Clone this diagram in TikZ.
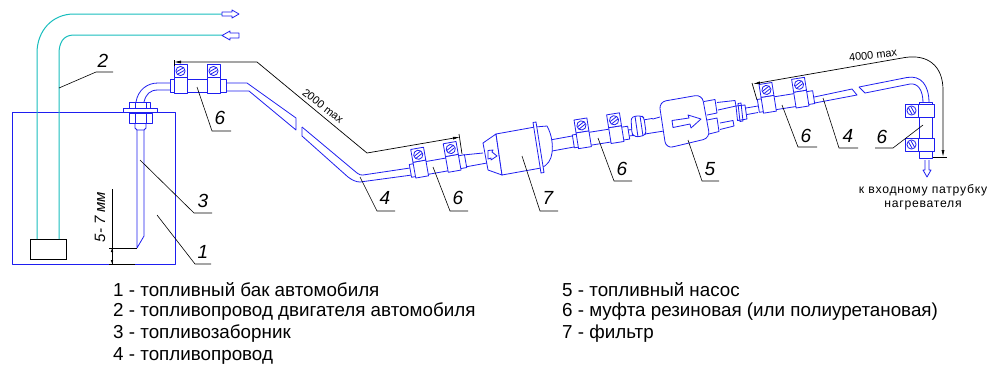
\documentclass[tikz,border=0pt]{standalone}
\usepackage{fontspec}
\setmainfont{Liberation Sans}
\usetikzlibrary{arrows.meta}
\definecolor{bl}{RGB}{30,30,240}
\definecolor{tl}{RGB}{25,190,190}
\tikzset{
  part/.style={draw=bl,line width=0.8pt,line join=round},
  fpart/.style={part,fill=white},
  fuel/.style={draw=tl,line width=1pt},
  lead/.style={draw=black,line width=0.6pt},
  num/.style={font=\itshape\fontsize{19}{19}\selectfont,inner sep=0pt},
  legend/.style={anchor=west,font=\fontsize{18.8}{19}\selectfont,inner sep=0pt},
  dimtext/.style={font=\fontsize{11}{12}\selectfont,inner sep=0pt},
  dimline/.style={draw=black,line width=0.7pt}
}
\newcommand{\scr}[2]{%
  \draw[fpart] (#1-6.5,#2-6.5) rectangle (#1+6.5,#2+6.5);
  \draw[part] (#1,#2) circle (4.6);
  \draw[part] (#1-3.8,#2+0.6) -- (#1+2.9,#2-3.2) (#1-2.9,#2+3.2) -- (#1+3.8,#2-0.6);
}
% x y angle clamp1 clamp2
\newcommand{\muff}[5]{%
  \begin{scope}[shift={(#1,#2)},rotate=#3]
    \draw[fpart] (-28,-6.5) rectangle (28,6.5);
    \draw[fpart] (#4,-8) rectangle (#4+13,8);
    \draw[fpart] (#5,-8) rectangle (#5+13,8);
    \pgfmathsetmacro{\ca}{#4+6.5}\pgfmathsetmacro{\cb}{#5+6.5}
    \scr{\ca}{-14.5}
    \scr{\cb}{-14.5}
  \end{scope}
}
\begin{document}
\begin{tikzpicture}[x=1pt,y=-1pt]
\useasboundingbox (0,0) rectangle (987,365);
\fill[white] (0,0) rectangle (987,365);
% tank
\draw[part] (12,112) rectangle (175,264);
% suction float
\draw[draw=black,line width=0.7pt] (30,239) rectangle (66,259);
% fuel lines
\draw[fuel] (37,239) -- (37,53) .. controls (37,31) and (52,14) .. (74,14) -- (222,14);
\draw[fuel] (59,239) -- (59,54) .. controls (59,43) and (63,35) .. (74,35) -- (222,35);
\draw[part,fill=white] (222,12) -- (232,12) -- (232,10) -- (239,14) -- (232,18) -- (232,16) -- (222,16) -- cycle;
\draw[part,fill=white] (239,33) -- (230,33) -- (230,31) -- (222,35.5) -- (230,40) -- (230,38) -- (239,38) -- cycle;
% intake
\draw[part] (137,130) -- (137,248) -- (144,236) -- (144,130);
\draw[fpart] (135,123) -- (146,123) -- (146,128) -- (144,130) -- (137,130) -- (135,128) -- cycle;
\draw[fpart] (129,113) rectangle (152,123);
\draw[part] (135,113) -- (135,123) (146,113) -- (146,123);
\draw[fpart] (123,108) rectangle (157,112);
\draw[fpart] (129,102) rectangle (150,108);
\draw[part] (135,102) -- (135,108) (146,102) -- (146,108);
% first tube
\draw[part] (136,102) .. controls (138,90) and (147,83) .. (158,83) -- (171,83);
\draw[part] (144,102) .. controls (146,94) and (150,90) .. (158,90) -- (171,90);
\draw[part] (226,83) -- (247,83) -- (296,118) -- (296,130) -- (249,91) -- (226,91);
\draw[part] (302,127) -- (302,136) -- (348,177) .. controls (352,180) and (356,182) .. (360,182) -- (412,175);
\draw[part] (302,127) -- (357,173) .. controls (359,175) and (361,175) .. (363,175) -- (410,168);
% muff 1
\muff{198}{85.5}{0}{-24}{9}
% muff 2
\draw[part] (463,155) -- (483,153) (465,167) -- (487,163);
\muff{438}{166}{10}{-24}{9}
% filter
\draw[part] (550,140) -- (572,136) (552,151) -- (574,147);
\draw[fpart] (483,143) -- (496,134) -- (502,175) -- (488,170) -- cycle;
\draw[fpart] (496,134) -- (535,127) -- (541,168) -- (502,175) -- cycle;
\draw[fpart] (535,127) -- (547,126) .. controls (552,135) and (553,145) .. (552,153) .. controls (551,160) and (548,165) .. (541,168) -- cycle;
\draw[fpart] (533,122.5) -- (536,122) -- (544,172.5) -- (541,173) -- cycle;
\draw[part] (488,150.5) -- (493,150) -- (492,152) -- (497,156) -- (491,160) -- (491,158) -- (488,159) -- cycle;
% muff 3
\draw[part] (628,130) -- (632,129.5) (629,136) -- (633,135.5);
\muff{601}{137}{9}{-24}{9}
% pump
\draw[part] (643,120) -- (652,118.5) -- (653,119) -- (660,117) (645,134) -- (664,131);
\draw[fpart,rounded corners=2.5pt] (631,118) -- (635,116) -- (642,116) -- (644,118) -- (646,132) -- (645,135) -- (638,137) -- (634,136) -- (632,134) -- cycle;
\draw[part] (635,116) -- (638,137) (640,116) -- (643,136);
\draw[fpart,rounded corners=7pt] (659,102) -- (702,94.5) -- (710,138) -- (666,148.5) -- cycle;
\draw[part] (672,120.5) -- (689,118) -- (688,115) -- (701,119) -- (691,128) -- (690,124) -- (673,127.5) -- cycle;
\draw[part] (704,101.5) -- (715,99.5) -- (717,113) -- (707,115);
\draw[part] (717,102.5) -- (735,100.5) -- (736,106) -- (718,110);
\draw[part] (707,120) -- (717,118) -- (719,131.5) -- (709,134);
\draw[part] (720,123) -- (733,120.5) -- (734,126) -- (720,129.5);
\draw[fpart] (736,106) -- (745,105) -- (747,119) -- (737.5,120.5) -- cycle;
\draw[part] (738,103.5) -- (741,103) -- (743,121) -- (740,121.5) -- cycle;
\draw[part] (746,108) -- (758,106) (747,114.5) -- (758,112.5);
% muff 4
\draw[part] (812,97.5) -- (852,89) -- (857,95) -- (812,103.5);
\muff{786}{101.5}{9}{-24}{9}
% last tube
\draw[part] (859,87) -- (862,90) -- (865,93) -- (910,84) .. controls (918,83) and (923,90) .. (923,103);
\draw[part] (859,87) -- (907,77.5) .. controls (921,75) and (929,85) .. (929,103);
% muff 5
\muff{926}{130}{90}{-21}{13}
% outlet arrow
\draw[part] (925,160) -- (925,170) -- (923,170) -- (927,177) -- (931,170) -- (929,170) -- (929,160);
% dimension 2000
\draw[dimline] (174,60) -- (174,66);
\draw[dimline,{Latex[length=7pt,width=3pt]}-{Latex[length=7pt,width=3pt]}] (174,62) -- (257,62) -- (367,153) -- (460,137);
\draw[dimline] (459,134) -- (462,154);
\node[dimtext,rotate=-38] (d2000) at (323,106) {2000 max};
% dimension 4000
\draw[dimline] (752,83) -- (757,100);
\draw[dimline,{Latex[length=7pt,width=3pt]}-{Latex[length=7pt,width=3pt]}] (753,84) -- (905,57.5) .. controls (928,54) and (943,66) .. (943,90) -- (943,157);
\draw[dimline] (933,157) -- (947,157);
\node[dimtext,rotate=7] (d4000) at (873,55) {4000 max};
% 5-7 dimension
\draw[dimline] (112,189) -- (112,264);
\draw[dimline] (109,248) -- (137,248);
\draw[dimline] (109,264) -- (135,264);
\draw[dimline,{Latex[length=4pt,width=2.5pt]}-] (112,248) -- (112,252);
\draw[dimline,-{Latex[length=4pt,width=2.5pt]}] (112,260) -- (112,264);
\node[font=\itshape\fontsize{15}{15}\selectfont,inner sep=0pt,rotate=90] (d57) at (100,217) {5- 7 мм};
% leaders
\draw[lead] (59,88) -- (96,72) -- (113,72);
\node[num] (n2) at (103,61) {2};
\draw[lead] (197,87) -- (212,131) -- (231,131);
\node[num] (n6a) at (220,118) {6};
\draw[lead] (140,160) -- (194,213) -- (212,213);
\node[num] (n3) at (203,201) {3};
\draw[lead] (157,215) -- (195,264) -- (211,264);
\node[num] (n1) at (203,252) {1};
\draw[lead] (360,177) -- (377,211) -- (395,211);
\node[num] (n4a) at (385,198) {4};
\draw[lead] (433,167) -- (450,211) -- (468,211);
\node[num] (n6b) at (458,198) {6};
\draw[lead] (522,156) -- (540,211) -- (558,211);
\node[num] (n7) at (548,198) {7};
\draw[lead] (598,138) -- (614,181) -- (632,181);
\node[num] (n6c) at (622,169) {6};
\draw[lead] (688,140) -- (702,181) -- (719,181);
\node[num] (n5) at (710,169) {5};
\draw[lead] (782,105) -- (798,147) -- (817,147);
\node[num] (n6d) at (806,136) {6};
\draw[lead] (823,98) -- (839,148) -- (858,148);
\node[num] (n4b) at (848,136) {4};
\draw[lead] (923,125) -- (893,148) -- (875,148);
\node[num] (n6e) at (882,137) {6};
% outlet text
\node[inner sep=0pt,font=\fontsize{12.2}{12}\selectfont\addfontfeatures{LetterSpace=6}] (t1) at (923,190) {к входному патрубку};
\node[inner sep=0pt,font=\fontsize{12.2}{12}\selectfont\addfontfeatures{LetterSpace=6}] (t2) at (923,205) {нагревателя};
% legend
\node[legend] (l1) at (113,290) {1 - топливный бак автомобиля};
\node[legend] (l2) at (113,312) {2 - топливопровод двигателя автомобиля};
\node[legend] (l3) at (113,334) {3 - топливозаборник};
\node[legend] (l4) at (113,356) {4 - топливопровод};
\node[legend] (l5) at (562,290) {5 - топливный насос};
\node[legend] (l6) at (562,312) {6 - муфта резиновая (или полиуретановая)};
\node[legend] (l7) at (562,334) {7 - фильтр};
\end{tikzpicture}
\end{document}
